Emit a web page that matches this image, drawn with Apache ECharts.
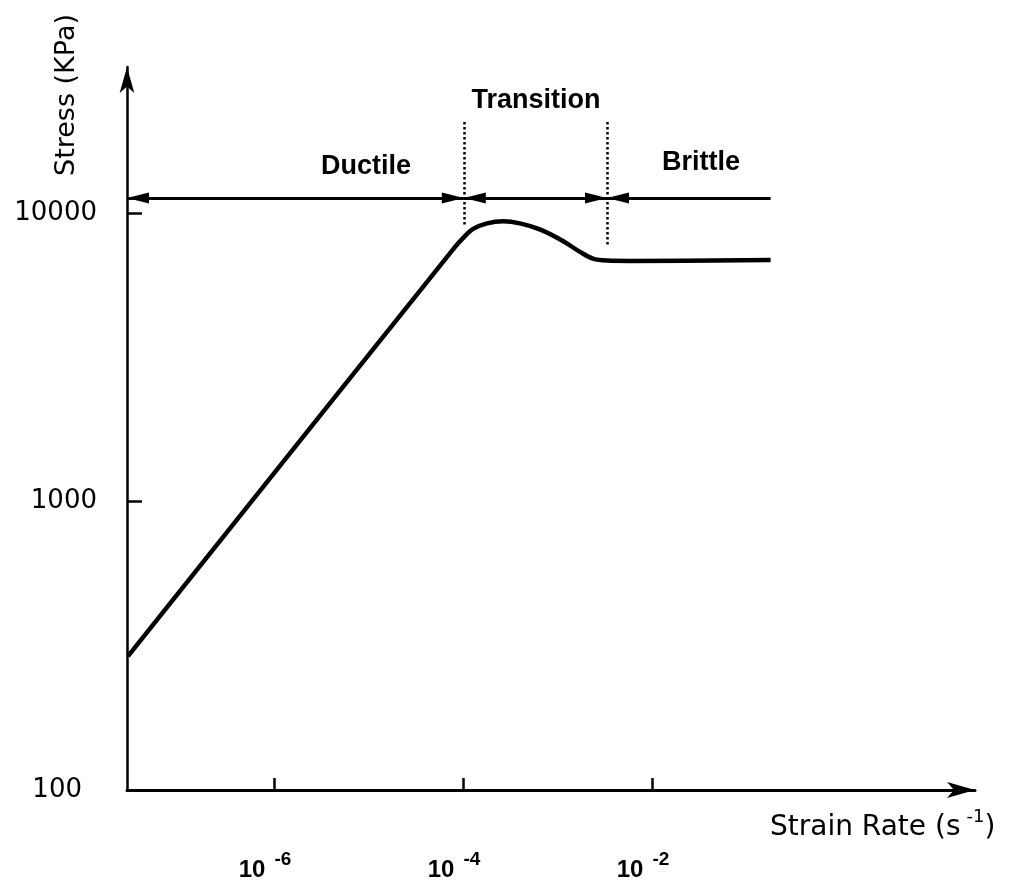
<!DOCTYPE html>
<html><head><meta charset="utf-8">
<script src="https://cdn.jsdelivr.net/npm/echarts@6/dist/echarts.min.js"></script>
<style>html,body{margin:0;padding:0;background:#fff}#c{width:1013px;height:893px}</style>
</head><body><div id="c"></div>
<script>
// ---- data (strain rate in 1/s, stress in KPa) ----
const strainRate = [2.85e-8, 8.2e-5, 1.0e-4, 1.28e-4, 1.8e-4, 2.65e-4, 4.0e-4, 6.5e-4, 1.14e-3, 1.73e-3, 2.37e-3, 3.34e-3, 5.85e-3, 0.18];
const stress     = [291, 7620, 8185, 8810, 9205, 9355, 9205, 8770, 8000, 7330, 6950, 6840, 6820, 6870];
const xTickRates  = [1e-6, 1e-4, 1e-2];
const xTickExps   = ['-6', '-4', '-2'];
const yTickStress = [100, 1000, 10000];
const yTickLabels = ['100', '1000', '10000'];
const xRange = [2.78e-8, 26.2];
const yRange = [100, 32060];
const regionNames  = ['Ductile', 'Transition', 'Brittle'];
const regionBounds = [2.78e-8, 1.02e-4, 3.34e-3, 0.18];
const arrowStress  = 11270;
const dividerRates  = [1.02e-4, 3.34e-3];
const dividerTop    = 20650;
const dividerBottom = [8935, 7740];

const L = Math.log10;
const near = (a, b) => Math.abs(a - b) < 1e-6;

const chart = echarts.init(document.getElementById('c'), null, {renderer: 'canvas'});

const arrowSym = {symbol: 'triangle', symbolSize: [11, 22], symbolOffset: [0, '50%']};
const ya = L(arrowStress);
const bx = regionBounds.map(L);
const markData = [
  [Object.assign({coord: [bx[0], ya]}, arrowSym), Object.assign({coord: [bx[1], ya]}, arrowSym)],
  [Object.assign({coord: [bx[1], ya]}, arrowSym), Object.assign({coord: [bx[2], ya]}, arrowSym)],
  [Object.assign({coord: [bx[2], ya]}, arrowSym), {coord: [bx[3], ya], symbol: 'none'}]
];
dividerRates.forEach((r, i) => {
  markData.push([
    {coord: [L(r), L(dividerTop)], symbol: 'none', lineStyle: {type: 'dotted', width: 2.5, color: '#000'}},
    {coord: [L(r), L(dividerBottom[i])], symbol: 'none'}
  ]);
});

const option = {
  animation: false,
  backgroundColor: '#fff',
  grid: {left: 127, right: 38, top: 67, bottom: 103, containLabel: false},
  xAxis: {
    type: 'value',
    min: L(xRange[0]), max: L(xRange[1]),
    splitLine: {show: false},
    axisLine: {onZero: false, lineStyle: {color: '#000', width: 3}, symbol: ['none', 'arrow'], symbolSize: [12, 28], symbolOffset: [0, 0]},
    axisTick: {customValues: xTickRates.map(L), inside: true, length: 12, lineStyle: {color: '#000', width: 2.5}},
    axisLabel: {
      customValues: xTickRates.map(L),
      margin: 60,
      padding: [0, 18, 0, 0],
      formatter: v => {
        const i = xTickRates.findIndex(r => near(L(r), v));
        return '{a|10}{b|' + xTickExps[i] + '}';
      },
      rich: {
        a: {fontFamily: 'Liberation Sans', fontWeight: 'bold', fontSize: 24, color: '#000', lineHeight: 32, verticalAlign: 'bottom'},
        b: {fontFamily: 'Liberation Sans', fontWeight: 'bold', fontSize: 19, color: '#000', verticalAlign: 'top', padding: [0, 0, 0, 9]}
      }
    }
  },
  yAxis: {
    type: 'value',
    min: L(yRange[0]), max: L(yRange[1]),
    splitLine: {show: false},
    axisLine: {onZero: false, lineStyle: {color: '#000', width: 2.5}, symbol: ['none', 'arrow'], symbolSize: [11, 26], symbolOffset: [0, 0]},
    axisTick: {customValues: yTickStress.map(L), inside: true, length: 15, lineStyle: {color: '#000', width: 2.5}},
    axisLabel: {
      customValues: yTickStress.map(L),
      margin: 30,
      formatter: v => {
        const i = yTickStress.findIndex(s => near(L(s), v));
        return '{' + (i === 0 ? 'p' : 'n') + '|' + yTickLabels[i] + '}';
      },
      rich: {
        n: {fontFamily: 'DejaVu Sans', fontSize: 26, color: '#000'},
        p: {fontFamily: 'DejaVu Sans', fontSize: 26, color: '#000', padding: [0, 15, 0, 0]}
      }
    }
  },
  graphic: [
    {type: 'text', x: 366, y: 167, style: {text: regionNames[0], fontFamily: 'Liberation Sans', fontWeight: 'bold', fontSize: 27, fill: '#000', align: 'center', verticalAlign: 'middle'}},
    {type: 'text', x: 536, y: 101, style: {text: regionNames[1], fontFamily: 'Liberation Sans', fontWeight: 'bold', fontSize: 27, fill: '#000', align: 'center', verticalAlign: 'middle'}},
    {type: 'text', x: 701, y: 163, style: {text: regionNames[2], fontFamily: 'Liberation Sans', fontWeight: 'bold', fontSize: 27, fill: '#000', align: 'center', verticalAlign: 'middle'}},
    {type: 'text', x: 67, y: 95, rotation: Math.PI / 2, style: {text: 'Stress (KPa)', fontFamily: 'DejaVu Sans', fontSize: 27, fill: '#000', align: 'center', verticalAlign: 'middle'}},
    {type: 'text', x: 770, y: 825, style: {
      text: '{a|Strain Rate (s}{b|-1}{a|)}', align: 'left', verticalAlign: 'middle',
      rich: {
        a: {fontFamily: 'DejaVu Sans', fontSize: 28, fill: '#000', color: '#000', lineHeight: 34, verticalAlign: 'bottom'},
        b: {fontFamily: 'DejaVu Sans', fontSize: 18, fill: '#000', color: '#000', verticalAlign: 'top', padding: [0, 0, 0, 6]}
      }
    }}
  ],
  series: [{
    type: 'line',
    data: strainRate.map((r, i) => [L(r), L(stress[i])]),
    symbol: 'none',
    smooth: 0.35,
    lineStyle: {color: '#000', width: 4.5},
    silent: true,
    markLine: {
      silent: true,
      animation: false,
      symbol: ['none', 'none'],
      label: {show: false},
      emphasis: {disabled: true},
      lineStyle: {color: '#000', width: 3, type: 'solid'},
      data: markData
    }
  }]
};
chart.setOption(option);
</script></body></html>
